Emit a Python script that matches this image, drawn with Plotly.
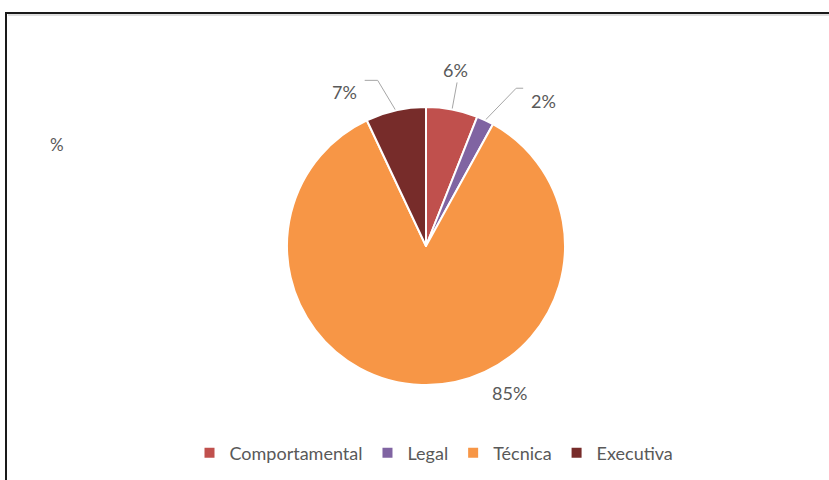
import math
import plotly.graph_objects as go

# Data
categories = ["Comportamental", "Legal", "Técnica", "Executiva"]
values = [6, 2, 85, 7]
colors = ["#C0504D", "#8064A2", "#F79646", "#772C2A"]

W, H = 829, 480
CX, CY, R = 426, 246, 139  # pie centre and radius (px)

# label placement per slice: (elbow dx, elbow dy, end dx, end dy, label dx, label dy) relative to rim point
label_layout = [
    (5, -27, 5, -27, 3, -39),        # Comportamental
    (31, -32, 38, -32, 58, -19),     # Legal
    None,                            # Técnica (no leader)
    (-18, -30, -31, -30, -51, -18),  # Executiva
]
big_label_pos = (510, 393)

TEXT = "#595959"
FONT = "Lato"

fig = go.Figure()

fig.add_trace(go.Pie(
    labels=categories,
    values=values,
    sort=False,
    direction="clockwise",
    rotation=0,
    marker=dict(colors=colors, line=dict(color="white", width=2)),
    textinfo="none",
    hoverinfo="label+percent",
    domain=dict(x=[(CX - R) / W, (CX + R) / W], y=[(H - CY - R) / H, (H - CY + R) / H]),
    showlegend=True,
))

# data labels and leader lines computed from slice mid-angles
total = sum(values)
cum = 0
annotations = []
for cat, v, lay in zip(categories, values, label_layout):
    mid = (cum + v / 2) / total * 2 * math.pi
    cum += v
    px = CX + R * math.sin(mid)
    py = CY - R * math.cos(mid)
    txt = f"{round(v / total * 100)}%"
    if lay is None:
        lx, ly = big_label_pos
    else:
        ex, ey, fx, fy, tx, ty = lay
        fig.add_trace(go.Scatter(
            x=[px, px + ex, px + fx], y=[py, py + ey, py + fy],
            mode="lines", line=dict(color="#A6A6A6", width=1),
            showlegend=False, hoverinfo="skip", xaxis="x", yaxis="y",
        ))
        lx, ly = px + tx, py + ty
    annotations.append(dict(
        x=lx / W, y=1 - ly / H, xref="paper", yref="paper",
        text=txt, showarrow=False, font=dict(family=FONT, size=18, color=TEXT),
        xanchor="center", yanchor="middle",
    ))

annotations.append(dict(
    x=57 / W, y=1 - 145 / H, xref="paper", yref="paper", text="%",
    showarrow=False, font=dict(family=FONT, size=17, color=TEXT),
    xanchor="center", yanchor="middle",
))

fig.update_layout(
    width=W, height=H,
    margin=dict(l=0, r=0, t=0, b=0),
    paper_bgcolor="white", plot_bgcolor="rgba(0,0,0,0)",
    xaxis=dict(range=[0, W], visible=False, fixedrange=True, domain=[0, 1]),
    yaxis=dict(range=[H, 0], visible=False, fixedrange=True, domain=[0, 1]),
    annotations=annotations,
    legend=dict(
        orientation="h", x=(426 + 8) / W, xanchor="center", y=1 - 453 / H, yanchor="middle",
        font=dict(family=FONT, size=18, color=TEXT), itemwidth=30,
        bgcolor="rgba(0,0,0,0)",
    ),
    shapes=[
        dict(type="rect", xref="paper", yref="paper",
             x0=6 / W, x1=1.02, y0=-0.02, y1=1 - 13 / H,
             line=dict(color="#1A1A1A", width=2), layer="above"),
        dict(type="line", xref="paper", yref="paper",
             x0=8 / W, x1=1.02, y0=1 - 15 / H, y1=1 - 15 / H,
             line=dict(color="#BFBFBF", width=1), layer="above"),
    ],
)

fig.write_html("out.html")
